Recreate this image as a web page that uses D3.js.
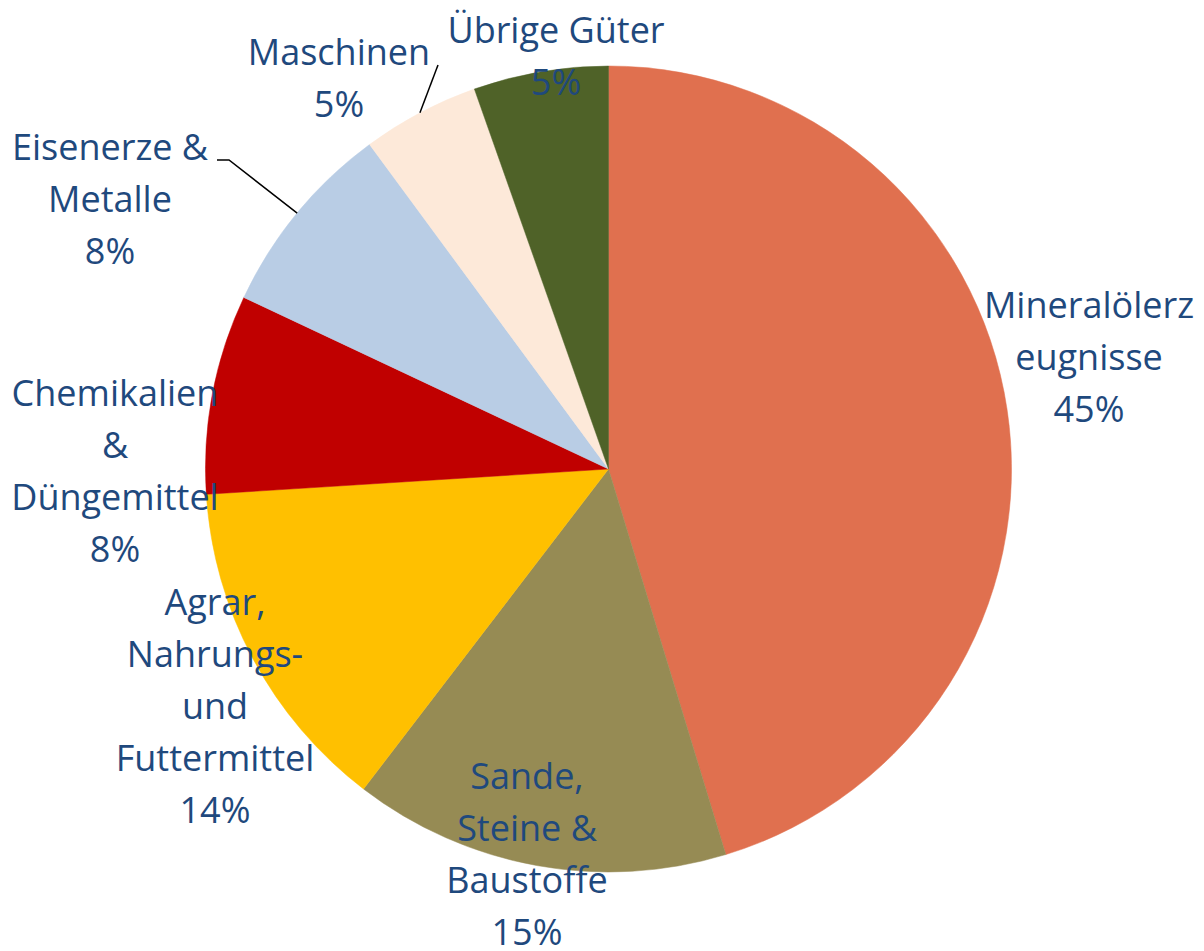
<!DOCTYPE html>
<html lang="de">
<head>
    <meta charset="UTF-8">
    <title>Güterstruktur</title>
    <style>
        body {
            margin: 0;
            background: #ffffff;
            font-family: 'Open Sans', sans-serif;
        }
        svg text {
            fill: #1F497D;
            font-size: 36px;
        }
    </style>
</head>
<body>
    <div id="chart"></div>

    <script src="https://d3js.org/d3.v7.min.js"></script>
    <script>
        // Anteile (in %), im Uhrzeigersinn ab 12 Uhr
        const categories = [
            'Mineralölerzeugnisse',
            'Sande, Steine & Baustoffe',
            'Agrar, Nahrungs- und Futtermittel',
            'Chemikalien & Düngemittel',
            'Eisenerze & Metalle',
            'Maschinen',
            'Übrige Güter'
        ];
        const values = [45.3, 15.1, 13.6, 8.0, 7.9, 4.7, 5.4];
        const percentLabels = ['45%', '15%', '14%', '8%', '8%', '5%', '5%'];
        // Zeilenumbrüche wie im Original
        const labelLines = [
            ['Mineralölerz', 'eugnisse'],
            ['Sande,', 'Steine &', 'Baustoffe'],
            ['Agrar,', 'Nahrungs-', 'und', 'Futtermittel'],
            ['Chemikalien', '&', 'Düngemittel'],
            ['Eisenerze &', 'Metalle'],
            ['Maschinen'],
            ['Übrige Güter']
        ];
        const colors = ['#E0704F', '#968B54', '#FFC000', '#C00000', '#B9CDE5', '#FDE9D9', '#4F6228'];

        const width = 1204;
        const height = 951;
        const cx = 608.5;
        const cy = 469;
        const radius = 403;
        const lineHeight = 52;

        // Layout der Beschriftungen (Mitte x, Grundlinie der ersten Zeile)
        const labelPos = [
            { x: 1089, y: 318 },
            { x: 527, y: 789 },
            { x: 215, y: 615 },
            { x: 115, y: 406 },
            { x: 110, y: 160 },
            { x: 339, y: 65 },
            { x: 556, y: 43 }
        ];
        // Führungslinien: Endpunkte neben dem Text
        const leaders = {
            4: [[229, 160], [217, 160]],
            5: [[438, 65]]
        };

        const svg = d3.select('#chart')
            .append('svg')
            .attr('width', width)
            .attr('height', height);

        const data = categories.map((c, i) => ({
            name: c,
            value: values[i],
            color: colors[i],
            lines: labelLines[i].concat([percentLabels[i]]),
            pos: labelPos[i],
            index: i
        }));

        const pie = d3.pie()
            .sort(null)
            .value(d => d.value);

        const arcs = pie(data);

        const arc = d3.arc()
            .innerRadius(0)
            .outerRadius(radius);

        const edgeArc = d3.arc()
            .innerRadius(radius)
            .outerRadius(radius);

        const g = svg.append('g')
            .attr('transform', `translate(${cx},${cy})`);

        g.selectAll('path.slice')
            .data(arcs)
            .enter()
            .append('path')
            .attr('class', 'slice')
            .attr('d', arc)
            .attr('fill', d => d.data.color)
            .attr('stroke', d => d.data.color)
            .attr('stroke-width', 0.5);

        // Führungslinien
        arcs.forEach(a => {
            const pts = leaders[a.data.index];
            if (!pts) return;
            const start = edgeArc.centroid(a);
            const path = [[start[0] + cx, start[1] + cy]].concat(pts);
            svg.append('path')
                .attr('d', d3.line()(path))
                .attr('fill', 'none')
                .attr('stroke', '#000000')
                .attr('stroke-width', 1.5);
        });

        // Beschriftungen
        data.forEach(d => {
            const t = svg.append('text')
                .attr('text-anchor', 'middle');
            d.lines.forEach((line, k) => {
                t.append('tspan')
                    .attr('x', d.pos.x)
                    .attr('y', d.pos.y + k * lineHeight)
                    .text(line);
            });
        });
    </script>
</body>
</html>
